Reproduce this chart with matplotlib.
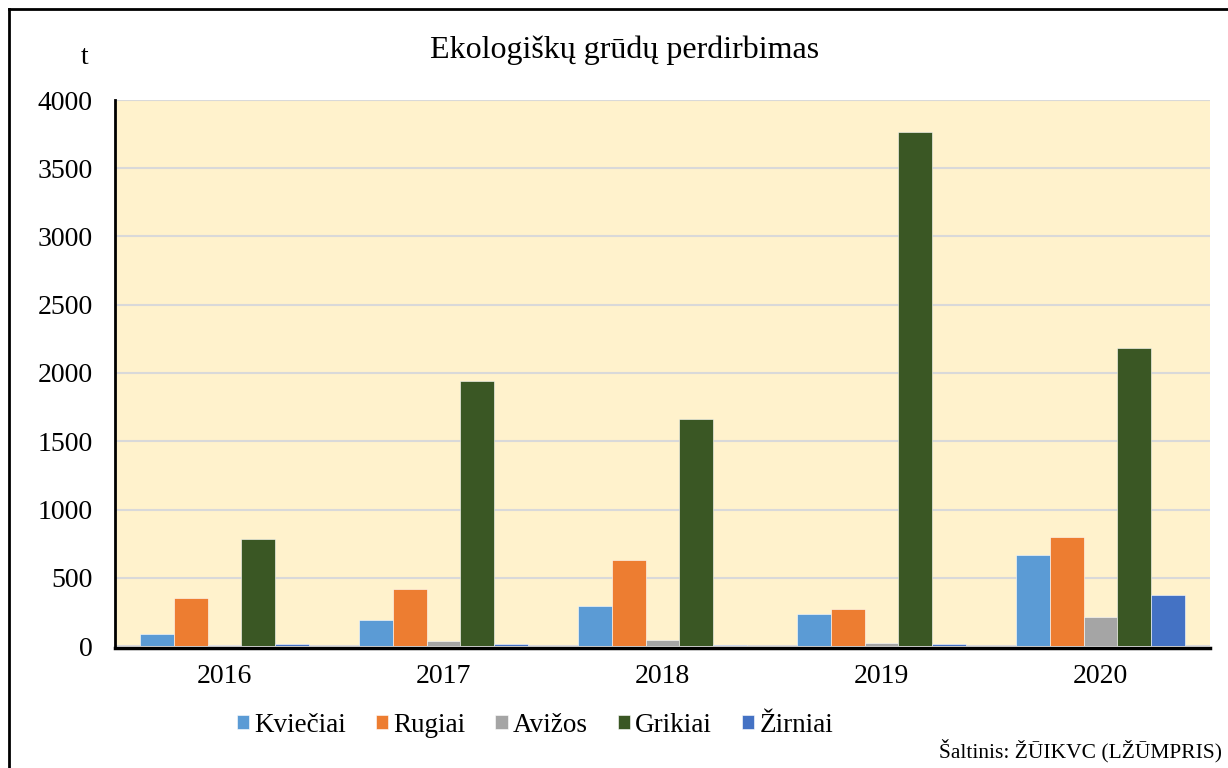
import matplotlib.pyplot as plt
import numpy as np

years = ["2016", "2017", "2018", "2019", "2020"]
kvieciai = [90, 190, 295, 235, 665]
rugiai = [350, 415, 630, 270, 800]
avizos = [8, 40, 45, 25, 215]
grikiai = [785, 1945, 1660, 3765, 2185]
zirniai = [12, 15, 7, 15, 375]
series_names = ["Kviečiai", "Rugiai", "Avižos", "Grikiai", "Žirniai"]
colors = ["#5B9BD5", "#ED7D31", "#A5A5A5", "#3A5724", "#4472C4"]

plt.rcParams['font.family'] = ['Liberation Serif', 'DejaVu Serif']

fig = plt.figure(figsize=(12.28, 7.68), dpi=100)
ax = fig.add_axes([115 / 1228, 1 - 646 / 768, (1210 - 115) / 1228, (646 - 100) / 768])
ax.set_facecolor("#FFF2CC")

x = np.arange(len(years))
w = 0.155
data = [kvieciai, rugiai, avizos, grikiai, zirniai]
for i, (vals, name, c) in enumerate(zip(data, series_names, colors)):
    ax.bar(x + (i - 2) * w, vals, width=w, color=c, label=name,
           edgecolor="#FFFFFF", linewidth=0.4, zorder=2)

ax.set_xlim(-0.5, 4.5)
ax.set_ylim(0, 4000)
ax.set_yticks(range(0, 4001, 500))
ax.set_xticks(x)
ax.set_xticklabels(years)
ax.yaxis.grid(True, color="#D9D9D9", linewidth=1.5)
ax.set_axisbelow(True)
for s in ["top", "right"]:
    ax.spines[s].set_visible(False)
ax.spines["left"].set_linewidth(2)
ax.spines["bottom"].set_linewidth(2.5)
ax.spines["bottom"].set_position(("outward", 1.2))
ax.spines["left"].set_zorder(5)
ax.spines["bottom"].set_zorder(5)
ax.tick_params(axis="both", length=0, labelsize=20)
ax.tick_params(axis="x", pad=12)
ax.tick_params(axis="y", pad=16)

fig.text(625 / 1228, 1 - 50 / 768, "Ekologiškų grūdų perdirbimas",
         ha="center", va="center", fontsize=23)
fig.text(85 / 1228, 1 - 58 / 768, "t", ha="center", va="center", fontsize=20)

leg = fig.legend(loc="center", bbox_to_anchor=(535 / 1228, 1 - 725 / 768),
                 ncol=5, frameon=False, fontsize=19.5, handlelength=0.45,
                 handleheight=0.45, handletextpad=0.2, columnspacing=1.1)

fig.text(1222 / 1228, 1 - 751 / 768, "Šaltinis: ŽŪIKVC (LŽŪMPRIS)",
         ha="right", va="center", fontsize=15.5)

# frame lines on left and top edge
fig.add_artist(plt.Line2D([9 / 1228, 9 / 1228], [0, 1 - 9 / 768], color="black",
                          linewidth=2, transform=fig.transFigure))
fig.add_artist(plt.Line2D([9 / 1228, 1], [1 - 9 / 768, 1 - 9 / 768], color="black",
                          linewidth=2, transform=fig.transFigure))

fig.savefig("out.png", dpi=100)
